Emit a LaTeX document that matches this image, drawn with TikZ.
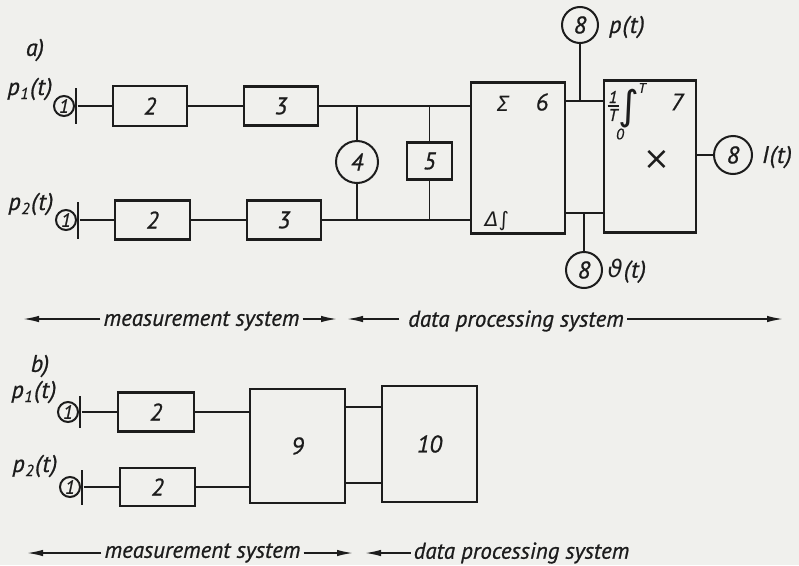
\documentclass[tikz,border=0pt]{standalone}
\usepackage{fontspec}
\setmainfont{PT Sans}[ItalicFeatures={FakeBold=0.8}]
\newfontfamily\grk{DejaVu Sans}
\usetikzlibrary{arrows.meta}
\definecolor{paper}{RGB}{240,240,237}
\definecolor{ink}{RGB}{28,28,28}
\newcommand\fsz[1]{\fontsize{#1}{#1}\selectfont}
\newcommand\lbl[2]{#1\kern0.5pt\raisebox{-0.35ex}{\fsz{16}#2}\kern1.5pt(\kern1pt t\kern1pt)}
\tikzset{
  txt/.style={text=ink, font=\itshape\fsz{24}, inner sep=0pt},
  rowtxt/.style={text=ink, font=\itshape\fsz{23}, inner ysep=0pt, inner xsep=3pt},
  blk/.style={draw=ink, line width=2.6pt, inner sep=0pt, text=ink, font=\itshape\fsz{24}},
  ring/.style={circle, draw=ink, line width=2pt, inner sep=0pt, text=ink, font=\itshape\fsz{#1}},
  barnode/.style={fill=ink, inner sep=0pt, minimum width=2.8pt, minimum height=#1},
  conn/.style={draw=ink, line width=1.8pt},
  arr/.style={draw=ink, line width=1.6pt, -{Latex[length=16pt,width=6.5pt]}},
}
\begin{document}
\begin{tikzpicture}[x=1pt,y=-1pt]
\fill[paper] (0,0) rectangle (799,565);
\useasboundingbox (0,0) rectangle (799,565);

% ---------------- panel a ----------------
\node[txt] (la) at (35,50) {a)};
\node[txt] (p1a) at (30,89) {\lbl{p}{1}};
\node[ring=19, minimum size=20pt] (c1t) at (64,106) {1};
\node[barnode=36pt] (b1t) at (76,106) {};
\node[blk, minimum width=74pt, minimum height=40pt] (a2t) at (150,106) {2};
\node[blk, minimum width=74pt, minimum height=39pt] (a3t) at (281,106) {3};

\node[txt] (p2a) at (31,204) {\lbl{p}{2}};
\node[ring=19, minimum size=20pt] (c1b) at (66,220) {1};
\node[barnode=37pt] (b1b) at (78,220) {};
\node[blk, minimum width=75pt, minimum height=39pt] (a2b) at (152.5,220) {2};
\node[blk, minimum width=74pt, minimum height=39pt] (a3b) at (284,220) {3};

\node[ring=24, minimum size=42pt] (c4) at (357,162) {4};
\node[blk, minimum width=45pt, minimum height=37pt] (a5) at (429.5,161) {5};

\node[blk, minimum width=94pt, minimum height=151pt] (a6) at (518,158) {};
\node[blk, minimum width=92pt, minimum height=152pt] (a7) at (650,156.5) {};

\node[txt, font=\grk\itshape\fsz{21}] (sig) at (503,104) {Σ};
\node[txt] (n6) at (542,102) {6};
\node[txt, font=\grk\itshape\fsz{20}] (dl) at (497,221) {Δ∫};

\node[txt] (n7) at (677,102) {7};
\node[txt, font=\itshape\fsz{17}] (f1) at (613,97) {1};
\node[txt, font=\itshape\fsz{17}] (fT) at (613,115) {T};
\draw[ink, line width=1.3pt] (607.5,106) -- (618.5,106);
\node[txt, font=\grk\fsz{40}, anchor=base, text height=29pt, text depth=6pt] (intg) at (629,119) {\makebox[9pt][c]{∫}};
\node[txt, font=\itshape\fsz{14}] (iT) at (642,88) {T};
\node[txt, font=\itshape\fsz{15}] (i0) at (620,134) {0};
\node[txt, font=\grk\fsz{32}] (tm) at (657,160) {×};

\node[ring=24, minimum size=36pt] (c8p) at (580,25) {8};
\node[txt] (pt) at (627,27) {p\kern1pt(\kern1pt t\kern1pt)};
\node[ring=24, minimum size=36pt] (c8v) at (584,270) {8};
\node[txt] (vt) at (627,271) {{\grk ϑ}\kern1pt(\kern1pt t\kern1pt)};
\node[ring=24, minimum size=38pt] (c8i) at (733,155) {8};
\node[txt] (it) at (777,157) {I\kern1pt(\kern1pt t\kern1pt)};

\coordinate (j4t) at (357,106);
\coordinate (j4b) at (357,220);
\coordinate (j5t) at (429.5,106);
\coordinate (j5b) at (429.5,220);
\coordinate (jt) at (580,101);
\coordinate (jb) at (584,213);

\draw[conn] (b1t) -- (a2t);
\draw[conn] (a2t) -- (a3t);
\draw[conn] (a3t.east) -- (a6.west |- a3t.east);
\draw[conn] (b1b) -- (a2b);
\draw[conn] (a2b) -- (a3b);
\draw[conn] (a3b.east) -- (a6.west |- a3b.east);
\draw[conn] (j4t) -- (c4);
\draw[conn] (c4) -- (j4b);
\draw[conn] (j5t) -- (a5);
\draw[conn] (a5) -- (j5b);
\draw[conn] (a6.east |- jt) -- (a7.west |- jt);
\draw[conn] (a6.east |- jb) -- (a7.west |- jb);
\draw[conn] (c8p) -- (jt);
\draw[conn] (jb) -- (c8v);
\draw[conn] (a7.east |- c8i) -- (c8i);

% arrows row a
\node[rowtxt] (mA) at (201.5,321) {measurement system};
\node[rowtxt] (dA) at (516,321) {data processing system};
\coordinate (mAl) at (23,319);
\coordinate (mAr) at (337,319);
\coordinate (dAl) at (347,319);
\coordinate (dAr) at (783,319);
\draw[arr] (mA.west |- mAl) -- (mAl);
\draw[arr] (mA.east |- mAr) -- (mAr);
\draw[arr] ([xshift=-6pt]dA.west |- dAl) -- (dAl);
\draw[arr] (dA.east |- dAr) -- (dAr);

% ---------------- panel b ----------------
\node[txt] (lb) at (40,366) {b)};
\node[txt] (p1b) at (34,392) {\lbl{p}{1}};
\node[ring=19, minimum size=20pt] (c1bt) at (68,412) {1};
\node[barnode=32pt] (bbt) at (80,412) {};
\node[blk, minimum width=76pt, minimum height=39pt] (b2t) at (156,412) {2};

\node[txt] (p2b) at (35,466) {\lbl{p}{2}};
\node[ring=19, minimum size=20pt] (c1bb) at (70,487) {1};
\node[barnode=35pt] (bbb) at (82,487) {};
\node[blk, minimum width=75pt, minimum height=38pt] (b2b) at (157.5,487) {2};

\node[blk, minimum width=95pt, minimum height=114pt] (b9) at (297.5,446) {9};
\node[blk, minimum width=95pt, minimum height=116pt] (b10) at (429.5,444) {10};

\coordinate (k1) at (0,407);
\coordinate (k2) at (0,483);
\draw[conn] (bbt) -- (b2t);
\draw[conn] (b2t) -- (b9.west |- b2t.east);
\draw[conn] (bbb) -- (b2b);
\draw[conn] (b2b) -- (b9.west |- b2b.east);
\draw[conn] (b9.east |- k1) -- (b10.west |- k1);
\draw[conn] (b9.east |- k2) -- (b10.west |- k2);

% arrows row b
\node[rowtxt] (mB) at (202.5,553) {measurement system};
\node[rowtxt] (dB) at (521.5,553) {data processing system};
\coordinate (mBl) at (27,553);
\coordinate (mBr) at (353,553);
\coordinate (dBl) at (365,553);
\draw[arr] (mB.west |- mBl) -- (mBl);
\draw[arr] (mB.east |- mBr) -- (mBr);
\draw[arr] (dB.west |- dBl) -- (dBl);
\end{tikzpicture}
\end{document}
